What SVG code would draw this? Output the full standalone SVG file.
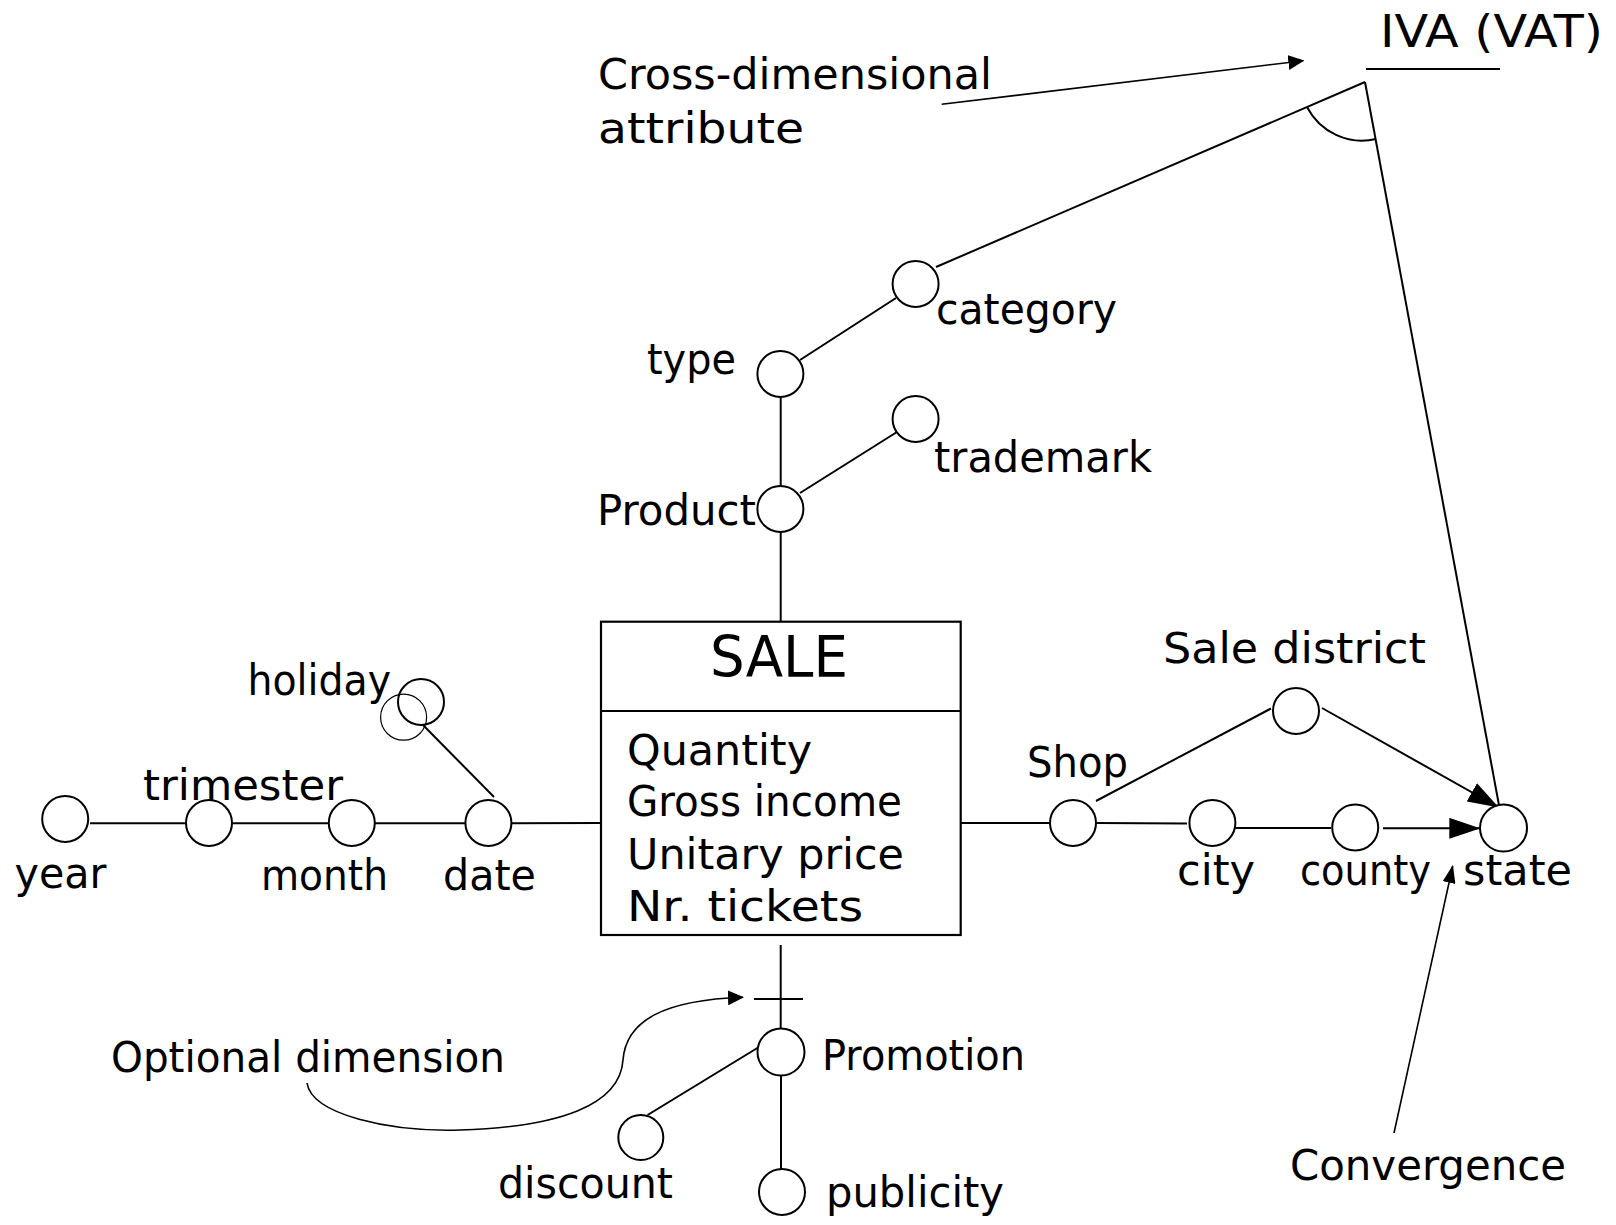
<svg xmlns="http://www.w3.org/2000/svg" width="1616" height="1225" viewBox="0 0 1616 1225">
<style>
  text { font-family: "DejaVu Sans", "Liberation Sans", sans-serif; font-size: 42px; fill: #000; }
  .big { font-size: 57px; }
  .iva { font-size: 45px; }
  .n { fill: #fff; stroke: #000; stroke-width: 2; }
  .thin { fill: none; stroke: #000; stroke-width: 1.2; }
  .ln { fill: none; stroke: #000; stroke-width: 2; }
  .ann { fill: none; stroke: #000; stroke-width: 1.6; }
  .box { fill: #fff; stroke: #000; stroke-width: 2.2; }
</style>
<defs>
  <marker id="ahS" markerUnits="userSpaceOnUse" markerWidth="16" markerHeight="15" viewBox="0 0 16 15" refX="15" refY="7.5" orient="auto"><path d="M0,0 L16,7.5 L0,15 z" fill="#000"/></marker>
  <marker id="ahC" markerUnits="userSpaceOnUse" markerWidth="18" markerHeight="13" viewBox="0 0 18 13" refX="17" refY="6.5" orient="auto"><path d="M0,0 L18,6.5 L0,13 z" fill="#000"/></marker>
  <marker id="ahL" markerUnits="userSpaceOnUse" markerWidth="31" markerHeight="21" viewBox="0 0 31 21" refX="30" refY="10.5" orient="auto"><path d="M0,0 L31,10.5 L0,21 z" fill="#000"/></marker>
</defs>
<rect width="1616" height="1225" fill="#fff"/>

<g id="connectors">
  <line class="ln" x1="936" y1="267" x2="1365" y2="82"/>
  <line class="ln" x1="1365" y1="82" x2="1499.5" y2="808"/>
  <path class="ln" d="M1307,107 A62,62 0 0 0 1376,139"/>
  <line class="ln" x1="800" y1="360" x2="896" y2="298"/>
  <line class="ln" x1="780.7" y1="397" x2="780.7" y2="486"/>
  <line class="ln" x1="800" y1="493" x2="897" y2="432"/>
  <line class="ln" x1="780.7" y1="532" x2="780.7" y2="621.5"/>
  <line class="ln" x1="423" y1="725" x2="494" y2="797"/>
  <line class="ln" x1="90" y1="823.3" x2="186" y2="823.3"/>
  <line class="ln" x1="232" y1="823.3" x2="329" y2="823.3"/>
  <line class="ln" x1="375" y1="823.3" x2="466" y2="823.3"/>
  <line class="ln" x1="511" y1="823.3" x2="601" y2="823"/>
  <line class="ln" x1="960.7" y1="823" x2="1050" y2="823"/>
  <line class="ln" x1="1096" y1="801" x2="1271" y2="708.5"/>
  <line class="ln" x1="1096" y1="823" x2="1187" y2="823.5"/>
  <line class="ln" x1="1235" y1="828" x2="1331" y2="828"/>
  <line class="ln" x1="1322" y1="708" x2="1498" y2="807" marker-end="url(#ahL)"/>
  <line class="ln" x1="1383" y1="828.3" x2="1479.3" y2="828.3" marker-end="url(#ahL)"/>
  <line class="ln" x1="780.7" y1="945" x2="780.7" y2="1029"/>
  <line class="ln" x1="754" y1="999" x2="803" y2="999"/>
  <line class="ln" x1="759" y1="1047" x2="647.6" y2="1115"/>
  <line class="ln" x1="781" y1="1075" x2="781" y2="1169"/>
  <line class="ln" x1="1366" y1="69" x2="1500" y2="69"/>
  <line class="ann" x1="941.7" y1="104.3" x2="1303.3" y2="60.7" marker-end="url(#ahS)"/>
  <line class="ann" x1="1394" y1="1133" x2="1452.7" y2="866" marker-end="url(#ahC)"/>
  <path class="ann" d="M307,1083 C312,1115 390,1132 460,1130 C560,1127 620,1105 623,1060 C626,1020 665,1000 743,997.3" marker-end="url(#ahS)"/>
</g>

<g id="iva"><text class="iva" x="1380" y="47" textLength="223" lengthAdjust="spacingAndGlyphs">IVA (VAT)</text></g>
<g id="note-cross"><text x="598" y="89" textLength="394" lengthAdjust="spacingAndGlyphs">Cross-dimensional</text><text x="598" y="143" textLength="206" lengthAdjust="spacingAndGlyphs">attribute</text></g>

<g id="category"><circle class="n" cx="915.6" cy="284" r="23"/><text x="936" y="324" textLength="181" lengthAdjust="spacingAndGlyphs">category</text></g>
<g id="type"><circle class="n" cx="780.4" cy="374" r="23"/><text x="647" y="374" textLength="89" lengthAdjust="spacingAndGlyphs">type</text></g>
<g id="trademark"><circle class="n" cx="915.6" cy="419" r="23"/><text x="934" y="472" textLength="218" lengthAdjust="spacingAndGlyphs">trademark</text></g>
<g id="product"><circle class="n" cx="780.4" cy="509" r="23"/><text x="597" y="525" textLength="159" lengthAdjust="spacingAndGlyphs">Product</text></g>

<g id="sale">
  <rect class="box" x="601" y="621.7" width="359.7" height="313.3"/>
  <line class="ln" x1="601" y1="711" x2="960.7" y2="711"/>
  <text class="big" x="710" y="677" textLength="138" lengthAdjust="spacingAndGlyphs">SALE</text>
  <text x="627" y="765" textLength="185" lengthAdjust="spacingAndGlyphs">Quantity</text>
  <text x="627" y="816" textLength="275" lengthAdjust="spacingAndGlyphs">Gross income</text>
  <text x="627" y="869" textLength="277" lengthAdjust="spacingAndGlyphs">Unitary price</text>
  <text x="627" y="921" textLength="236" lengthAdjust="spacingAndGlyphs">Nr. tickets</text>
</g>

<g id="holiday"><circle class="thin" cx="403.6" cy="717.2" r="23"/><circle class="n" cx="421" cy="702" r="23" fill-opacity="0"/><text x="247.5" y="695" textLength="143.5" lengthAdjust="spacingAndGlyphs">holiday</text></g>
<g id="year"><circle class="n" cx="65.2" cy="819" r="23"/><text x="14.5" y="888" textLength="92" lengthAdjust="spacingAndGlyphs">year</text></g>
<g id="trimester"><circle class="n" cx="209" cy="823" r="23"/><text x="143" y="800" textLength="200" lengthAdjust="spacingAndGlyphs">trimester</text></g>
<g id="month"><circle class="n" cx="351.8" cy="823" r="23"/><text x="261" y="890" textLength="127" lengthAdjust="spacingAndGlyphs">month</text></g>
<g id="date"><circle class="n" cx="488.4" cy="823" r="23"/><text x="443" y="890" textLength="93" lengthAdjust="spacingAndGlyphs">date</text></g>

<g id="shop"><circle class="n" cx="1073" cy="823" r="23"/><text x="1027" y="777" textLength="101" lengthAdjust="spacingAndGlyphs">Shop</text></g>
<g id="sale-district"><circle class="n" cx="1296" cy="711" r="23"/><text x="1163" y="663" textLength="263" lengthAdjust="spacingAndGlyphs">Sale district</text></g>
<g id="city"><circle class="n" cx="1212.4" cy="823" r="23"/><text x="1177" y="885" textLength="78" lengthAdjust="spacingAndGlyphs">city</text></g>
<g id="county"><circle class="n" cx="1355.2" cy="827.5" r="23"/><text x="1300" y="885" textLength="131" lengthAdjust="spacingAndGlyphs">county</text></g>
<g id="state"><circle class="n" cx="1503.5" cy="828" r="23.5"/><text x="1463" y="885" textLength="109" lengthAdjust="spacingAndGlyphs">state</text></g>
<g id="note-convergence"><text x="1290" y="1180" textLength="276" lengthAdjust="spacingAndGlyphs">Convergence</text></g>

<g id="promotion"><circle class="n" cx="781" cy="1052" r="23.5"/><text x="822" y="1070" textLength="203" lengthAdjust="spacingAndGlyphs">Promotion</text></g>
<g id="discount"><circle class="n" cx="640.8" cy="1137.5" r="22.5"/><text x="498" y="1198" textLength="175" lengthAdjust="spacingAndGlyphs">discount</text></g>
<g id="publicity"><circle class="n" cx="782" cy="1192" r="23"/><text x="826" y="1207" textLength="178" lengthAdjust="spacingAndGlyphs">publicity</text></g>
<g id="note-optional"><text x="111" y="1072" textLength="394" lengthAdjust="spacingAndGlyphs">Optional dimension</text></g>
</svg>
